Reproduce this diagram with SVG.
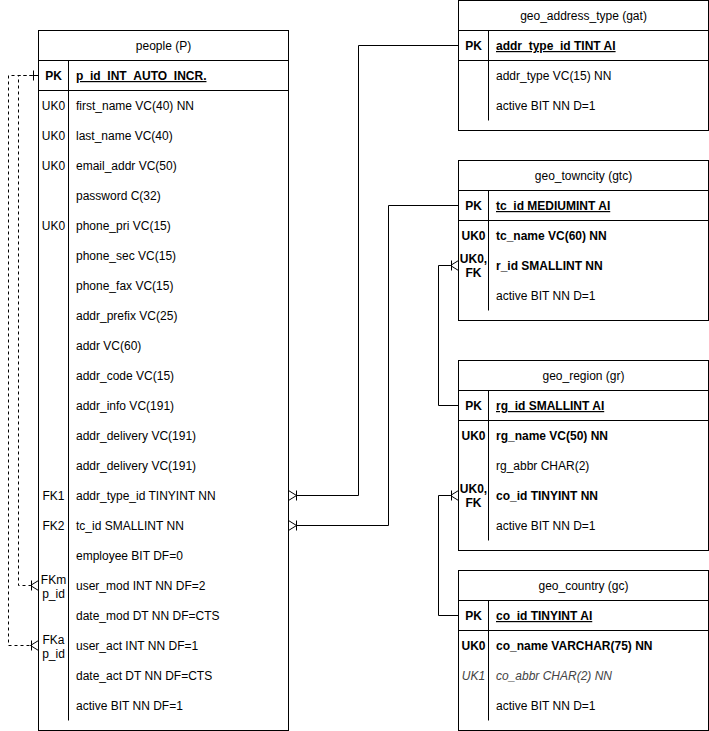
<svg xmlns="http://www.w3.org/2000/svg" width="709" height="731" viewBox="0 0 709 731">
<style>
text{font-family:"Liberation Sans",Arial,sans-serif;font-size:12px;fill:#000}
.c{text-anchor:middle}
.b{font-weight:bold}
.u{text-decoration:underline}
.i{font-style:italic;fill:#444}
.box{fill:#fff;stroke:#000;stroke-width:1}
.ln{stroke:#000;stroke-width:1;fill:none}
.dash{stroke-dasharray:3 3}
</style>
<defs>
<marker id="one" markerUnits="userSpaceOnUse" viewBox="0 0 12 12" refX="0" refY="6" markerWidth="12" markerHeight="12" orient="auto">
<path d="M0,6 H12 M6,1 V11" stroke="#000" fill="none"/>
</marker>
</defs>

<g id="connectors">
<path class="ln" d="M296.5,495.5 H358.5 V45.5 H458.5" marker-end="url(#one)"/>
<path class="ln" d="M296.5,525.5 H388.5 V205.5 H458.5" marker-end="url(#one)"/>
<path class="ln" d="M450.5,265.5 H438.5 V405.5 H458.5" marker-end="url(#one)"/>
<path class="ln" d="M450.5,495.5 H438.5 V615.5 H458.5" marker-end="url(#one)"/>
<path class="ln dash" d="M32.5,75.5 H18.5 V585.5 H30.5"/>
<path class="ln dash" d="M32.5,75.5 H8.5 V645.5 H30.5"/>
<path class="ln" d="M288.5,490.5 L296.5,495.5 L288.5,500.5 M296.5,490.5 V500.5"/>
<path class="ln" d="M288.5,520.5 L296.5,525.5 L288.5,530.5 M296.5,520.5 V530.5"/>
<path class="ln" d="M458.5,260.5 L450.5,265.5 L458.5,270.5 M451.5,260.5 V270.5"/>
<path class="ln" d="M458.5,490.5 L450.5,495.5 L458.5,500.5 M451.5,490.5 V500.5"/>
<path class="ln" d="M38.5,580.5 L30.5,585.5 L38.5,590.5 M31.5,580.5 V590.5"/>
<path class="ln" d="M38.5,640.5 L30.5,645.5 L38.5,650.5 M31.5,640.5 V650.5"/>
<path class="ln" d="M32.5,75.5 H38.5 M33.5,70.5 V80.5"/>
</g>

<g id="people">
<rect class="box" x="38.5" y="30.5" width="250" height="700"/>
<path class="ln" d="M38.5,60.5 H288.5 M38.5,90.5 H288.5 M68.5,60.5 V720.5"/>
<text class="c" x="163.5" y="50">people (P)</text>
<text class="c b" x="53.5" y="80">PK</text>
<text class="b u" x="76" y="80">p_id_INT_AUTO_INCR.</text>
<text class="c" x="53.5" y="110">UK0</text><text x="76" y="110">first_name VC(40) NN</text>
<text class="c" x="53.5" y="140">UK0</text><text x="76" y="140">last_name VC(40)</text>
<text class="c" x="53.5" y="170">UK0</text><text x="76" y="170">email_addr VC(50)</text>
<text x="76" y="200">password C(32)</text>
<text class="c" x="53.5" y="230">UK0</text><text x="76" y="230">phone_pri VC(15)</text>
<text x="76" y="260">phone_sec VC(15)</text>
<text x="76" y="290">phone_fax VC(15)</text>
<text x="76" y="320">addr_prefix VC(25)</text>
<text x="76" y="350">addr VC(60)</text>
<text x="76" y="380">addr_code VC(15)</text>
<text x="76" y="410">addr_info VC(191)</text>
<text x="76" y="440">addr_delivery VC(191)</text>
<text x="76" y="470">addr_delivery VC(191)</text>
<text class="c" x="53.5" y="500">FK1</text><text x="76" y="500">addr_type_id TINYINT NN</text>
<text class="c" x="53.5" y="530">FK2</text><text x="76" y="530">tc_id SMALLINT NN</text>
<text x="76" y="560">employee BIT DF=0</text>
<text class="c" x="53.5" y="584">FKm</text><text class="c" x="53.5" y="598">p_id</text>
<text x="76" y="590">user_mod INT NN DF=2</text>
<text x="76" y="620">date_mod DT NN DF=CTS</text>
<text class="c" x="53.5" y="644">FKa</text><text class="c" x="53.5" y="658">p_id</text>
<text x="76" y="650">user_act INT NN DF=1</text>
<text x="76" y="680">date_act DT NN DF=CTS</text>
<text x="76" y="710">active BIT NN DF=1</text>
</g>

<g id="geo_address_type">
<rect class="box" x="458.5" y="0.5" width="250" height="130"/>
<path class="ln" d="M458.5,30.5 H708.5 M458.5,60.5 H708.5 M488.5,30.5 V120.5"/>
<text class="c" x="583.5" y="20">geo_address_type (gat)</text>
<text class="c b" x="473.5" y="50">PK</text>
<text class="b u" x="496" y="50">addr_type_id TINT AI</text>
<text x="496" y="80">addr_type VC(15) NN</text>
<text x="496" y="110">active BIT NN D=1</text>
</g>

<g id="geo_towncity">
<rect class="box" x="458.5" y="160.5" width="250" height="160"/>
<path class="ln" d="M458.5,190.5 H708.5 M458.5,220.5 H708.5 M488.5,190.5 V310.5"/>
<text class="c" x="583.5" y="180">geo_towncity (gtc)</text>
<text class="c b" x="473.5" y="210">PK</text>
<text class="b u" x="496" y="210">tc_id MEDIUMINT AI</text>
<text class="c b" x="473.5" y="240">UK0</text><text class="b" x="496" y="240">tc_name VC(60) NN</text>
<text class="c b" x="473.5" y="263">UK0,</text><text class="c b" x="473.5" y="277">FK</text>
<text class="b" x="496" y="270">r_id SMALLINT NN</text>
<text x="496" y="300">active BIT NN D=1</text>
</g>

<g id="geo_region">
<rect class="box" x="458.5" y="360.5" width="250" height="190"/>
<path class="ln" d="M458.5,390.5 H708.5 M458.5,420.5 H708.5 M488.5,390.5 V540.5"/>
<text class="c" x="583.5" y="380">geo_region (gr)</text>
<text class="c b" x="473.5" y="410">PK</text>
<text class="b u" x="496" y="410">rg_id SMALLINT AI</text>
<text class="c b" x="473.5" y="440">UK0</text><text class="b" x="496" y="440">rg_name VC(50) NN</text>
<text x="496" y="470">rg_abbr CHAR(2)</text>
<text class="c b" x="473.5" y="493">UK0,</text><text class="c b" x="473.5" y="507">FK</text>
<text class="b" x="496" y="500">co_id TINYINT NN</text>
<text x="496" y="530">active BIT NN D=1</text>
</g>

<g id="geo_country">
<rect class="box" x="458.5" y="570.5" width="250" height="160"/>
<path class="ln" d="M458.5,600.5 H708.5 M458.5,630.5 H708.5 M488.5,600.5 V720.5"/>
<text class="c" x="583.5" y="590">geo_country (gc)</text>
<text class="c b" x="473.5" y="620">PK</text>
<text class="b u" x="496" y="620">co_id TINYINT AI</text>
<text class="c b" x="473.5" y="650">UK0</text><text class="b" x="496" y="650">co_name VARCHAR(75) NN</text>
<text class="c i" x="473.5" y="680">UK1</text><text class="i" x="496" y="680">co_abbr CHAR(2) NN</text>
<text x="496" y="710">active BIT NN D=1</text>
</g>
</svg>
